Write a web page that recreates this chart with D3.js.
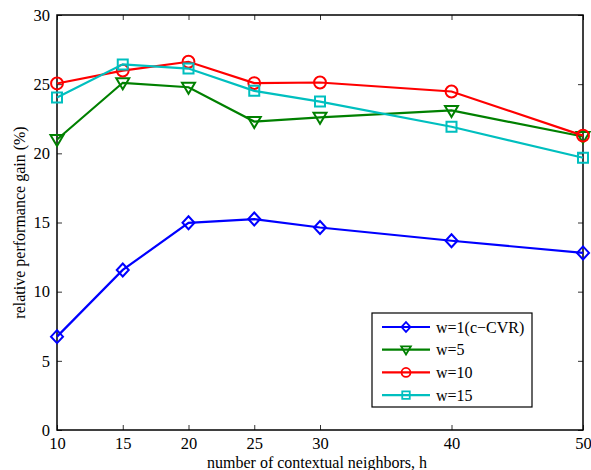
<!DOCTYPE html>
<html lang="en">
    <head>
        <meta charset="utf-8">
        <title>Relative performance gain</title>
        <script src="https://d3js.org/d3.v7.min.js"></script>
        <style type="text/css">
            body { margin: 0; background: #fff; }
        </style>
    </head>
    <body>
        <script type="text/javascript">

            //Data
            const neighbors = [10, 15, 20, 25, 30, 40, 50];
            const xTicks = [10, 15, 20, 25, 30, 40, 50];
            const yTicks = [0, 5, 10, 15, 20, 25, 30];
            const seriesNames = ["w=1(c\u2212CVR)", "w=5", "w=10", "w=15"];
            const gainW1 = [6.75, 11.57, 14.98, 15.25, 14.64, 13.68, 12.8];
            const gainW5 = [21.0, 25.1, 24.78, 22.3, 22.6, 23.1, 21.22];
            const gainW10 = [25.05, 25.98, 26.62, 25.08, 25.12, 24.47, 21.28];
            const gainW15 = [24.03, 26.43, 26.13, 24.52, 23.74, 21.92, 19.68];

            const w = 591;
            const h = 470;
            const margin = {top: 15, right: 8, bottom: 40, left: 57};
            const serif = "'Liberation Serif', 'Times New Roman', Times, serif";

            const colors = ["#0000ff", "#008000", "#ff0000", "#00bfbf"];
            const markers = ["diamond", "triangle", "circle", "square"];

            const series = [gainW1, gainW5, gainW10, gainW15].map((vals, i) => ({
                name: seriesNames[i],
                color: colors[i],
                marker: markers[i],
                values: vals.map((v, j) => ({x: neighbors[j], y: v}))
            }));

            const svg = d3.select("body")
                    .append("svg")
                    .attr("width", w)
                    .attr("height", h)
                    .attr("font-family", serif);

            const x = d3.scaleLinear().domain([10, 50]).range([margin.left, w - margin.right]);
            const y = d3.scaleLinear().domain([0, 30]).range([h - margin.bottom, margin.top]);

            //axes with inward ticks
            svg.append("g")
                .attr("transform", "translate(0," + (h - margin.bottom) + ")")
                .call(d3.axisBottom(x).tickValues(xTicks).tickSizeInner(-5).tickSizeOuter(0).tickPadding(7))
                .call(g => g.select(".domain").remove());
            svg.append("g")
                .attr("transform", "translate(0," + margin.top + ")")
                .call(d3.axisTop(x).tickValues(xTicks).tickSizeInner(-5).tickSizeOuter(0).tickFormat(""))
                .call(g => g.select(".domain").remove());
            svg.append("g")
                .attr("transform", "translate(" + margin.left + ",0)")
                .call(d3.axisLeft(y).tickValues(yTicks).tickSizeInner(-5).tickSizeOuter(0).tickPadding(7))
                .call(g => g.select(".domain").remove());
            svg.append("g")
                .attr("transform", "translate(" + (w - margin.right) + ",0)")
                .call(d3.axisRight(y).tickValues(yTicks).tickSizeInner(-5).tickSizeOuter(0).tickFormat(""))
                .call(g => g.select(".domain").remove());

            svg.selectAll(".tick line").attr("stroke", "#333").attr("stroke-width", 1);
            svg.selectAll(".tick text")
                .attr("fill", "#000")
                .style("font-family", serif)
                .style("font-size", "16.5px");

            //frame
            svg.append("rect")
                .attr("x", margin.left)
                .attr("y", margin.top)
                .attr("width", w - margin.left - margin.right)
                .attr("height", h - margin.top - margin.bottom)
                .attr("fill", "none")
                .attr("stroke", "#000")
                .attr("stroke-width", 1.5);

            //marker paths
            function markerPath(type) {
                if (type === "diamond") return "M0,-6.5L6,0L0,6.5L-6,0Z";
                if (type === "triangle") return "M-6.5,-4.5L6.5,-4.5L0,6.5Z";
                if (type === "circle") return d3.symbol(d3.symbolCircle, 110)();
                return "M-5,-5L5,-5L5,5L-5,5Z";
            }

            const line = d3.line().x(d => x(d.x)).y(d => y(d.y));

            const groups = svg.selectAll("g.series")
                    .data(series)
                    .enter()
                    .append("g")
                    .attr("class", "series");

            groups.append("path")
                .attr("d", d => line(d.values))
                .attr("fill", "none")
                .attr("stroke", d => d.color)
                .attr("stroke-width", 2.2);

            groups.each(function(s) {
                d3.select(this).selectAll("path.mk")
                    .data(s.values)
                    .enter()
                    .append("path")
                    .attr("class", "mk")
                    .attr("transform", d => "translate(" + x(d.x) + "," + y(d.y) + ")")
                    .attr("d", markerPath(s.marker))
                    .attr("fill", "none")
                    .attr("stroke", s.color)
                    .attr("stroke-width", 2);
            });

            //axis labels
            svg.append("text")
                .attr("x", 317)
                .attr("y", 468)
                .attr("text-anchor", "middle")
                .style("font-family", serif)
                .style("font-size", "16px")
                .text("number of contextual neighbors, h");

            svg.append("text")
                .attr("transform", "translate(25," + ((margin.top + h - margin.bottom) / 2) + ") rotate(-90)")
                .attr("text-anchor", "middle")
                .style("font-family", serif)
                .style("font-size", "16px")
                .text("relative performance gain (%)");

            //legend
            const legend = svg.append("g").attr("class", "legend");
            legend.append("rect")
                .attr("x", 372).attr("y", 313)
                .attr("width", 160).attr("height", 94)
                .attr("fill", "#fff")
                .attr("stroke", "#000")
                .attr("stroke-width", 1.2);

            const items = legend.selectAll("g.item")
                    .data(series)
                    .enter()
                    .append("g")
                    .attr("class", "item")
                    .attr("transform", (d, i) => "translate(0," + (327 + i * 22.7) + ")");

            items.append("line")
                .attr("x1", 382).attr("x2", 430)
                .attr("stroke", d => d.color)
                .attr("stroke-width", 2.2);
            items.append("path")
                .attr("transform", "translate(406,0) scale(0.75)")
                .attr("d", d => markerPath(d.marker))
                .attr("fill", "none")
                .attr("stroke", d => d.color)
                .attr("stroke-width", 2.4);
            items.append("text")
                .attr("x", 436)
                .attr("y", 5.5)
                .style("font-family", serif)
                .style("font-size", "16px")
                .text(d => d.name);

        </script>
    </body>
</html>
